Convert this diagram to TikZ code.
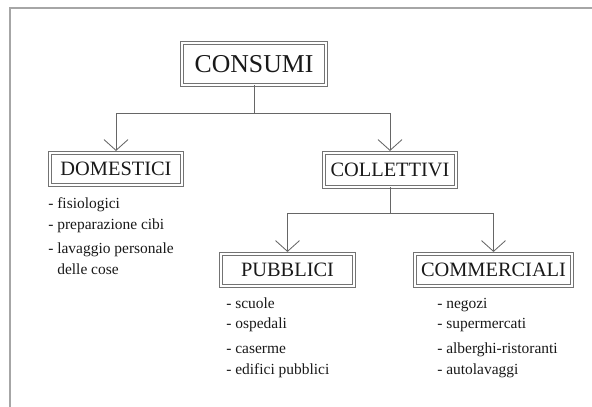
\documentclass[tikz,border=0pt]{standalone}
\usepackage{fontspec}
\setmainfont{Liberation Serif}
\usetikzlibrary{arrows.meta}
\tikzset{
  frame/.style={draw=black!35, line width=1.2pt},
  head/.style={draw=black!55, double=white, double distance=2pt, line width=0.5pt,
               align=center, inner sep=0pt, text=black!90},
  conn/.style={draw=black!60, line width=0.6pt},
  arr/.style={conn, shorten >=1.2pt,
              -{Straight Barb[length=2.7mm, width=6mm, line width=0.6pt]}},
  item/.style={anchor=base west, inner sep=0pt, text=black!90,
               font=\fontsize{11}{13}\selectfont},
}

\begin{document}
\begin{tikzpicture}[x=0.025cm, y=-0.025cm]
\useasboundingbox (0,0) rectangle (592,407);

% page frame, open at the right and at the bottom
\draw[frame] (592,8) -- (10,8) -- (10,407);

\node[head, minimum width=3.6cm, minimum height=1.05cm,
      font=\fontsize{18.3}{20}\selectfont] (consumi) at (254,64) {CONSUMI};
\node[head, minimum width=3.3cm, minimum height=0.8cm,
      font=\fontsize{14.5}{16}\selectfont] (domestici) at (116,169) {DOMESTICI};
\node[head, minimum width=3.3cm, minimum height=0.85cm,
      font=\fontsize{14.5}{16}\selectfont] (collettivi) at (390,170) {COLLETTIVI};
\node[head, minimum width=3.325cm, minimum height=0.8cm,
      font=\fontsize{14.5}{16}\selectfont] (pubblici) at (287.5,270) {PUBBLICI};
\node[head, minimum width=3.925cm, minimum height=0.8cm,
      font=\fontsize{14.5}{16}\selectfont] (commerciali) at (493.5,270) {COMMERCIALI};

% first split
\coordinate (split1) at (consumi.south |- 0,113);
\draw[conn] (consumi.south) -- (split1);
\draw[arr] (split1) -| (domestici.north);
\draw[arr] (split1) -| (collettivi.north);

% second split
\coordinate (split2) at (collettivi.south |- 0,213);
\draw[conn] (collettivi.south) -- (split2);
\draw[arr] (split2) -| (pubblici.north);
\draw[arr] (split2) -| (commerciali.north);

% lists
\foreach \y/\t [count=\i] in {208/{- fisiologici}, 229/{- preparazione cibi},
    253/{- lavaggio personale}, 274/{\phantom{- }delle cose}}
  \node[item] (dom\i) at (48,\y) {\t};

\foreach \y/\t [count=\i] in {308/{- scuole}, 328/{- ospedali},
    353/{- caserme}, 374/{- edifici pubblici}}
  \node[item] (pub\i) at (226,\y) {\t};

\foreach \y/\t [count=\i] in {308/{- negozi}, 328/{- supermercati},
    353/{- alberghi-ristoranti}, 374/{- autolavaggi}}
  \node[item] (com\i) at (437,\y) {\t};

\end{tikzpicture}
\end{document}
